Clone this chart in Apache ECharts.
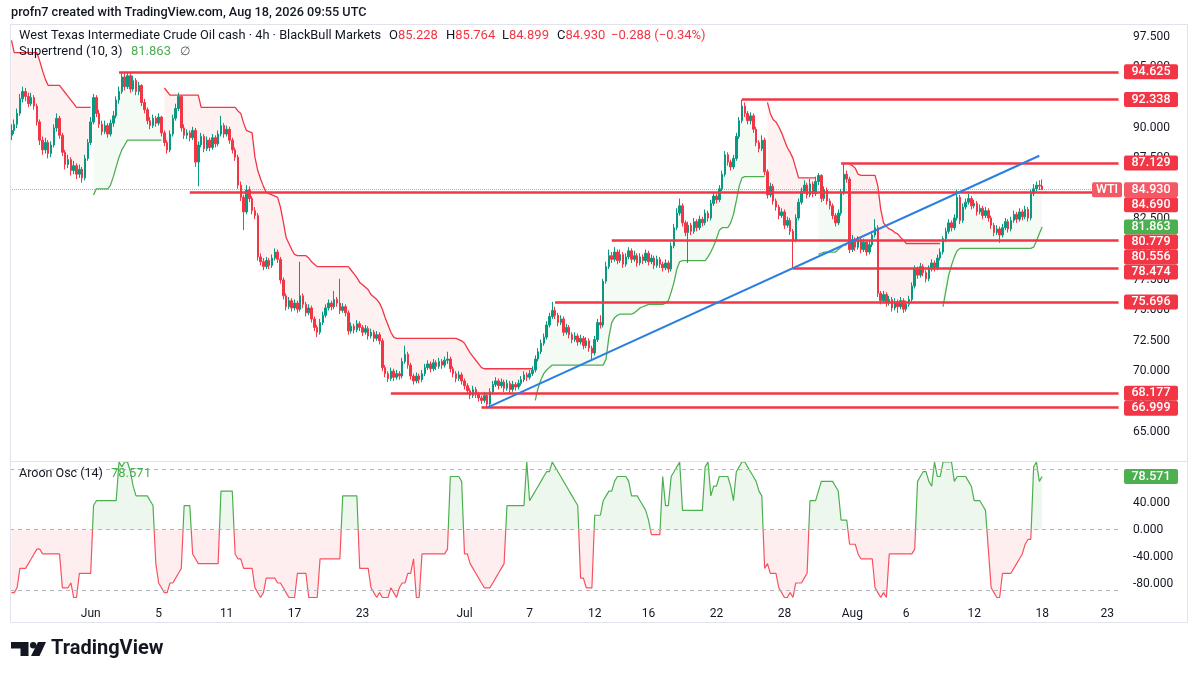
<!DOCTYPE html>
<html><head><meta charset="utf-8">
<script src="https://cdn.jsdelivr.net/npm/echarts@6/dist/echarts.min.js"></script>
<style>html,body{margin:0;padding:0;background:#fff}#c{width:1200px;height:675px}</style>
</head><body><div id="c"></div>
<script>
// ---------- DATA ----------
// 4h candles: [open, close, low, high]
const candles = [
[89.4,89.8,89.0,90.3],[89.8,90.3,89.5,90.7],[90.3,91.2,90.0,91.6],[91.2,92.4,91.0,92.8],[92.4,93.0,92.1,93.4],[93.0,92.6,92.2,93.3],[92.6,92.0,91.7,92.9],[92.0,92.5,91.8,92.9],[92.5,91.8,91.5,92.7],[91.8,90.5,90.2,92.0],
[90.5,89.0,88.6,90.7],[89.0,88.2,87.8,89.3],[88.2,88.8,87.9,89.2],[88.8,87.9,87.5,89.0],[87.9,88.6,87.6,88.9],[88.6,90.0,88.4,90.3],[90.0,90.8,89.7,91.2],[90.8,89.4,89.1,91.0],[89.4,88.0,87.7,89.6],[88.0,87.0,86.6,88.2],
[87.0,87.4,86.7,87.8],[87.4,86.5,86.1,87.6],[86.5,86.9,86.2,87.3],[86.9,86.2,85.8,87.1],[86.2,86.6,85.9,87.0],[86.6,85.9,85.5,86.8],[85.9,87.5,85.7,87.8],[87.5,88.8,87.3,89.1],[88.8,90.5,88.6,90.9],[90.5,92.5,90.3,92.8],
[92.5,91.2,90.9,92.7],[91.2,90.3,90.0,91.5],[90.3,89.7,89.4,90.6],[89.7,90.2,89.5,90.6],[90.2,89.5,89.2,90.4],[89.5,90.4,89.3,90.7],[90.4,91.0,90.1,91.4],[91.0,92.3,90.8,92.6],[92.3,93.0,92.0,93.4],[93.0,94.2,92.8,94.5],
[94.2,93.4,93.1,94.625],[93.4,94.3,93.2,94.6],[94.3,93.2,92.9,94.5],[93.2,93.9,93.0,94.3],[93.9,93.0,92.7,94.1],[93.0,93.5,92.7,93.8],[93.5,92.1,91.8,93.6],[92.1,91.5,91.2,92.4],[91.5,90.6,90.3,91.7],[90.6,90.2,89.9,90.9],
[90.2,90.8,90.0,91.1],[90.8,90.4,90.1,91.0],[90.4,90.9,90.2,91.2],[90.9,89.6,89.3,91.0],[89.6,88.8,88.5,89.8],[88.8,88.2,87.9,89.0],[88.2,89.5,88.0,89.8],[89.5,90.8,89.3,91.1],[90.8,91.6,90.6,92.0],[91.6,92.6,91.4,92.9],
[92.6,90.0,89.7,92.7],[90.0,89.4,89.1,90.3],[89.4,89.6,89.1,89.9],[89.6,89.2,88.9,89.8],[89.2,89.8,89.0,90.1],[89.8,87.2,86.8,90.0],[87.2,88.6,85.2,88.9],[88.6,89.3,88.4,89.6],[89.3,88.3,88.0,89.5],[88.3,89.0,88.1,89.3],
[89.0,88.4,88.1,89.2],[88.4,89.2,88.2,89.5],[89.2,88.7,88.4,89.4],[88.7,89.5,88.5,89.8],[89.5,90.2,89.3,91.0],[90.2,89.5,89.2,90.4],[89.5,89.9,89.3,90.2],[89.9,89.0,88.7,90.1],[89.0,88.2,87.9,89.2],[88.2,87.6,87.3,88.4],
[87.6,85.3,85.0,87.8],[85.3,84.3,84.0,85.6],[84.3,83.1,81.6,84.5],[83.1,84.9,82.9,85.3],[84.9,84.2,83.9,85.2],[84.2,83.2,82.9,84.4],[83.2,82.8,82.5,83.5],[82.8,79.4,79.1,83.0],[79.4,79.0,78.7,79.7],[79.0,78.6,78.3,79.3],
[78.6,79.1,78.4,79.4],[79.1,78.7,78.4,79.3],[78.7,79.3,78.5,79.6],[79.3,79.8,79.1,80.1],[79.8,79.2,78.9,80.0],[79.2,77.5,77.2,79.4],[77.5,76.2,75.9,77.7],[76.2,75.3,75.0,76.4],[75.3,75.8,75.1,76.1],[75.8,75.2,74.9,76.0],
[75.2,75.6,75.0,75.9],[75.6,75.1,74.8,75.8],[75.1,76.2,74.9,79.0],[76.2,75.5,75.2,76.4],[75.5,74.8,74.5,75.7],[74.8,75.2,74.6,75.5],[75.2,74.3,74.0,75.4],[74.3,73.6,73.3,74.5],[73.6,73.2,72.8,73.8],[73.2,74.0,73.0,74.3],
[74.0,74.6,73.8,74.9],[74.6,75.2,74.4,75.5],[75.2,75.6,75.0,75.9],[75.6,75.3,75.0,75.8],[75.3,75.9,75.1,76.6],[75.9,75.6,75.3,76.1],[75.6,75.0,74.7,77.6],[75.0,75.3,74.8,75.6],[75.3,74.8,74.5,75.5],[74.8,73.3,73.0,75.0],
[73.3,73.7,73.1,74.0],[73.7,73.4,73.1,73.9],[73.4,73.9,73.2,74.2],[73.9,73.6,73.3,74.1],[73.6,73.2,72.9,73.8],[73.2,73.5,73.0,73.8],[73.5,72.9,72.6,73.7],[72.9,73.2,72.7,73.5],[73.2,72.7,72.4,73.4],[72.7,73.0,72.5,73.3],
[73.0,72.5,72.2,73.2],[72.5,70.3,70.0,72.7],[70.3,69.8,69.5,70.5],[69.8,69.4,69.1,70.0],[69.4,70.0,69.2,70.3],[70.0,69.5,69.2,70.2],[69.5,69.8,69.3,70.1],[69.8,69.6,69.3,70.0],[69.6,70.8,69.4,71.1],[70.8,71.4,70.6,72.1],
[71.4,70.5,70.2,71.6],[70.5,69.6,69.3,70.7],[69.6,69.2,68.9,69.8],[69.2,69.6,69.0,69.9],[69.6,69.3,69.0,69.8],[69.3,69.8,69.1,70.1],[69.8,70.3,69.6,70.6],[70.3,70.6,70.1,70.9],[70.6,70.2,69.9,70.8],[70.2,70.7,70.0,71.0],
[70.7,70.4,70.1,70.9],[70.4,70.8,70.2,71.1],[70.8,70.5,70.2,71.0],[70.5,70.9,70.3,71.2],[70.9,71.0,70.6,71.6],[71.0,70.2,69.9,71.2],[70.2,69.8,69.5,70.4],[69.8,69.4,69.1,70.0],[69.4,69.7,69.2,70.0],[69.7,69.2,68.9,69.9],
[69.2,68.8,68.5,69.4],[68.8,68.4,68.1,69.0],[68.4,68.0,67.7,68.6],[68.0,68.5,67.8,68.8],[68.5,68.1,67.8,68.7],[68.1,67.8,67.5,68.3],[67.8,67.6,67.3,68.0],[67.6,68.0,67.4,68.3],[68.0,67.3,66.999,68.2],[67.3,68.3,67.1,68.6],
[68.3,68.9,68.1,69.2],[68.9,69.2,68.7,69.5],[69.2,68.8,68.5,69.4],[68.8,69.1,68.6,69.4],[69.1,68.6,68.3,69.3],[68.6,69.0,68.4,69.3],[69.0,68.5,68.2,69.2],[68.5,68.9,68.3,69.2],[68.9,68.7,68.4,69.1],[68.7,69.0,68.5,69.3],
[69.0,69.3,68.8,69.6],[69.3,69.7,69.1,70.0],[69.7,69.5,69.2,69.9],[69.5,69.8,69.3,70.1],[69.8,70.1,69.6,70.4],[70.1,71.0,69.9,71.3],[71.0,71.6,70.8,71.9],[71.6,72.3,71.4,72.6],[72.3,72.8,72.1,73.1],[72.8,73.8,72.6,74.1],
[73.8,74.5,73.6,74.8],[74.5,75.0,74.3,75.696],[75.0,74.6,74.3,75.3],[74.6,74.0,73.7,74.8],[74.0,74.3,73.8,74.6],[74.3,73.2,72.9,74.5],[73.2,73.6,73.0,73.9],[73.6,73.0,72.7,73.8],[73.0,72.6,72.3,73.2],[72.6,72.9,72.4,73.2],
[72.9,72.4,72.1,73.1],[72.4,72.7,72.2,73.0],[72.7,72.1,71.8,72.9],[72.1,72.5,71.9,72.8],[72.5,71.9,71.6,72.7],[71.9,71.5,71.0,72.1],[71.5,72.6,71.3,72.9],[72.6,74.0,72.4,74.3],[74.0,73.8,73.5,74.6],[73.8,77.4,73.6,77.6],
[77.4,78.6,77.2,79.0],[78.6,79.5,78.4,80.0],[79.5,79.2,78.9,79.8],[79.2,79.8,79.0,80.2],[79.8,79.1,78.8,80.0],[79.1,79.6,78.9,80.0],[79.6,78.8,78.5,79.8],[78.8,79.4,78.6,79.7],[79.4,79.9,79.2,80.2],[79.9,79.2,78.9,80.1],
[79.2,79.5,79.0,79.9],[79.5,78.9,78.6,79.7],[78.9,79.4,78.7,79.7],[79.4,79.1,78.8,79.6],[79.1,79.7,78.9,80.0],[79.7,79.0,78.7,79.9],[79.0,79.3,78.8,79.6],[79.3,78.7,78.4,79.5],[78.7,79.2,78.5,79.5],[79.2,78.8,78.5,79.4],
[78.8,78.5,78.2,79.0],[78.5,78.9,78.3,79.2],[78.9,78.4,78.1,79.1],[78.4,80.3,78.2,80.6],[80.3,81.8,80.1,82.1],[81.8,83.0,81.6,83.4],[83.0,83.6,82.8,84.2],[83.6,82.2,81.9,83.8],[82.2,81.4,81.1,82.4],[81.4,82.0,78.9,82.3],
[82.0,81.5,81.2,82.2],[81.5,82.3,81.3,82.6],[82.3,81.8,81.5,82.5],[81.8,82.5,81.6,82.8],[82.5,82.2,81.9,82.7],[82.2,83.0,82.0,83.3],[83.0,82.6,82.3,83.2],[82.6,83.8,82.4,84.1],[83.8,84.4,83.6,84.7],[84.4,84.1,83.8,84.6],
[84.1,85.0,83.9,85.3],[85.0,86.2,84.8,86.5],[86.2,87.8,86.0,88.1],[87.8,87.2,86.9,88.0],[87.2,86.8,86.5,87.4],[86.8,87.5,86.6,87.8],[87.5,89.3,87.3,89.6],[89.3,90.6,89.1,90.9],[90.6,91.8,90.4,92.338],[91.8,91.2,90.9,92.1],
[91.2,90.6,90.3,91.4],[90.6,91.0,90.3,91.3],[91.0,89.9,89.6,91.2],[89.9,88.8,88.5,90.1],[88.8,88.3,88.0,89.0],[88.3,89.0,88.1,89.4],[89.0,86.4,86.1,89.2],[86.4,84.5,84.2,86.6],[84.5,85.2,84.3,85.5],[85.2,84.0,83.7,85.4],
[84.0,83.5,83.2,84.2],[83.5,82.8,82.5,83.7],[82.8,83.1,82.6,83.4],[83.1,82.0,81.7,83.3],[82.0,82.4,81.8,82.7],[82.4,81.5,81.2,82.6],[81.5,80.8,78.474,81.7],[80.8,82.6,80.6,82.9],[82.6,83.9,82.4,84.2],[83.9,84.8,83.7,85.1],
[84.8,85.3,84.6,85.7],[85.3,84.5,84.2,85.5],[84.5,85.4,84.3,85.8],[85.4,84.6,84.3,85.6],[84.6,85.6,84.4,86.0],[85.6,86.1,85.3,86.3],[86.1,84.2,83.9,86.2],[84.2,84.9,84.0,85.2],[84.9,84.0,83.7,85.1],[84.0,83.6,83.3,84.2],
[83.6,82.8,82.5,83.8],[82.8,82.2,81.9,83.0],[82.2,83.0,82.0,83.3],[83.0,84.7,82.8,85.0],[84.7,86.2,84.5,87.129],[86.2,85.8,85.5,86.5],[85.8,80.0,79.7,86.0],[80.0,80.8,79.8,81.2],[80.8,80.2,79.9,81.0],[80.2,80.8,80.0,81.1],
[80.8,80.0,79.7,81.0],[80.0,80.6,79.8,80.9],[80.6,79.8,79.5,80.8],[79.8,80.4,79.6,80.7],[80.4,81.2,80.2,81.5],[81.2,81.8,81.0,82.5],[81.8,76.4,76.1,82.0],[76.4,75.8,75.5,76.6],[75.8,76.3,75.6,76.6],[76.3,75.6,75.3,76.5],
[75.6,75.9,75.4,76.2],[75.9,75.2,74.9,76.1],[75.2,75.7,75.0,76.0],[75.7,75.3,74.8,75.9],[75.3,75.8,75.1,76.1],[75.8,75.1,74.8,76.0],[75.1,75.5,74.9,75.8],[75.5,75.9,75.3,76.2],[75.9,77.0,75.7,77.3],[77.0,78.4,76.8,78.7],
[78.4,77.9,77.6,78.6],[77.9,78.6,77.7,78.9],[78.6,78.1,77.8,78.8],[78.1,77.6,77.3,78.3],[77.6,78.4,77.4,78.7],[78.4,78.9,78.2,79.2],[78.9,78.5,78.2,79.1],[78.5,79.3,78.3,79.6],[79.3,79.8,79.1,80.1],[79.8,80.9,79.6,81.1],
[80.9,81.5,80.6,81.8],[81.5,82.2,81.3,82.5],[82.2,81.8,81.5,82.4],[81.8,82.6,81.6,82.9],[82.6,84.3,82.4,84.9],[84.3,82.4,82.1,84.5],[82.4,83.5,82.2,83.8],[83.5,83.9,83.3,84.2],[83.9,84.2,83.7,84.6],[84.2,83.6,83.3,84.4],
[83.6,83.8,83.4,84.1],[83.8,83.1,82.8,84.0],[83.1,83.4,82.9,83.7],[83.4,82.8,82.5,83.6],[82.8,83.2,82.6,83.5],[83.2,82.6,82.3,83.4],[82.6,82.0,81.7,82.8],[82.0,81.4,81.1,82.2],[81.4,81.7,81.2,82.0],[81.7,81.2,80.556,81.9],
[81.2,81.8,81.0,82.1],[81.8,82.3,81.6,82.6],[82.3,81.7,81.4,82.5],[81.7,82.4,81.5,82.7],[82.4,82.9,82.2,83.2],[82.9,82.5,82.2,83.1],[82.5,83.1,82.3,83.4],[83.1,82.7,82.4,83.3],[82.7,83.3,82.5,83.6],[83.3,82.6,82.3,83.5],
[82.6,84.6,82.4,84.9],[84.6,85.0,84.4,85.4],[85.0,85.3,84.8,85.6],[85.3,85.218,84.9,85.7],[85.228,84.93,84.899,85.764]
];

// Supertrend (10,3) segments: [first bar index, values]
const stRedSegs = [
 [0,[97.2,96.2,96.2,96.2,96.2,96.2,96.2,96.2,96.2,96.2,95.5,94.7,94.0,93.5,93.5,93.5,93.5,93.5,93.2,92.9,92.6,92.3,92.0,91.7,91.7,91.7,91.7,91.7,91.7]],
 [54,[93.3,93.0,92.7,92.7,92.7,92.7,92.7,92.7,92.7,92.7,92.7,92.7,92.7,
      91.7,91.7,91.7,91.7,91.7,91.7,91.7,91.7,91.7,91.7,91.7,91.7,91.7,
      91.4,91.2,90.4,89.8,89.7,89.6,87.6,86.5,85.8,85.2,84.7,84.6,84.5,84.4,84.3,83.5,82.3,81.0,80.5,80.0,79.6,
      79.5,79.5,79.5,79.5,79.3,79.0,78.8,
      78.6,78.6,78.6,78.6,78.6,78.6,78.6,78.6,78.6,78.6,78.6,78.6,
      78.3,78.0,77.7,77.3,77.1,76.9,76.7,76.3,76.1,75.9,75.6,75.1,74.4,73.8,73.2,72.8,
      72.7,72.7,72.7,72.7,72.7,72.7,72.7,72.7,72.7,72.7,72.7,72.7,72.7,72.7,72.7,72.7,72.7,72.7,72.7,72.7,72.7,72.7,
      72.6,72.5,72.3,71.9,71.5,71.2,70.9,70.6,70.3,
      70.2,70.2,70.2,70.2,70.2,70.2,70.2,70.2,70.2,70.2,70.2,70.2,70.2,70.2,70.2,70.2,70.2,70.2]],
 [267,[92.1,91.2,90.7,90.5,90.1,89.6,89.0,88.4,88.0,87.5,86.7,85.9,85.9,85.9,85.9,85.9,85.9,85.9]],
 [296,[87.0,86.9,86.7,86.2,86.1,86.1,86.1,86.1,86.1,86.1,85.2,83.3,82.2,81.9,81.7,81.6,81.4,81.3,81.0,80.8,80.5,
      80.5,80.5,80.5,80.5,80.5,80.5,80.5,80.5,80.5,80.5,80.5,80.5]]
];
const stGreenSegs = [
 [29,[84.5,85.0,85.0,85.0,85.0,85.0,85.3,86.0,86.8,87.6,88.2,88.6,89.0,89.0,89.0,89.0,89.0,89.0,89.0,89.0,89.0,89.0,89.0,89.0,89.0]],
 [185,[67.6,68.6,69.3,69.8,70.1,70.3,
      70.5,70.5,70.5,70.5,70.5,70.5,70.5,70.5,70.5,70.5,70.5,70.5,70.5,70.5,70.5,70.5,70.5,70.5,70.5,
      71.0,72.8,74.0,74.4,74.6,74.7,74.7,74.7,74.7,74.7,74.8,75.0,75.2,75.3,75.4,
      75.5,75.5,75.5,75.5,75.5,75.5,75.6,75.8,76.5,77.3,78.4,79.0,
      79.1,79.1,79.1,79.1,79.1,79.1,79.1,79.1,79.1,79.4,79.8,80.3,80.9,81.6,81.8,81.8,81.8,
      82.2,82.9,84.0,85.2,85.9,86.0,86.0,86.0,86.0,86.0,86.0,86.0,86.0]],
 [285,[79.6,79.7,79.8,79.8,79.8,79.8,79.8,80.0,80.2,80.4,80.4]],
 [329,[75.3,76.6,77.9,78.7,79.4,79.9,
      80.1,80.1,80.1,80.1,80.1,80.1,80.1,80.1,80.1,80.1,80.1,80.1,80.1,80.1,80.1,80.1,80.1,80.1,80.1,80.1,80.1,80.1,80.1,80.1,80.1,80.1,
      80.2,80.7,81.3,81.863]]
];

// Aroon Oscillator (14), one value per bar
const aroon = [
-92.9,-92.9,-85.7,-57.1,-57.1,-57.1,-50,-42.9,-35.7,-28.6,
-28.6,-35.7,-35.7,-35.7,-35.7,-35.7,-35.7,-35.7,-85.7,-85.7,
-85.7,-78.6,-100,-100,-64.3,-64.3,-64.3,-64.3,-64.3,35.7,
42.9,42.9,42.9,42.9,42.9,42.9,42.9,42.9,100,92.9,
100,100,85.7,64.3,50,50,50,50,50,42.9,
35.7,-50,-78.6,-85.7,-92.9,-92.9,-78.6,-78.6,-71.4,-64.3,
-57.1,35.7,35.7,35.7,-35.7,-42.9,-50,-50,-50,-50,
-50,-50,-50,-50,57.1,57.1,57.1,57.1,57.1,-35.7,
-42.9,-42.9,-57.1,-57.1,-57.1,-57.1,-85.7,-92.9,-100,-92.9,
-71.4,-71.4,-71.4,-71.4,-78.6,-78.6,-85.7,-92.9,-100,-100,
-100,-64.3,-64.3,-64.3,-64.3,-100,-100,-100,-100,-42.9,
-42.9,-42.9,-42.9,-42.9,-42.9,-42.9,-42.9,50,50,50,
50,50,50,-57.1,-57.1,-57.1,-57.1,-85.7,-92.9,-100,
-92.9,-100,-100,-100,-85.7,-92.9,-100,-85.7,-78.6,-78.6,
-64.3,-64.3,-42.9,-100,-100,-35.7,-35.7,-35.7,-35.7,-35.7,
-35.7,-35.7,-35.7,-35.7,-28.6,78.6,78.6,78.6,78.6,71.4,
-35.7,-35.7,-50,-57.1,-64.3,-71.4,-78.6,-85.7,-85.7,-85.7,
-78.6,-71.4,-64.3,-57.1,-50,35.7,35.7,35.7,35.7,35.7,
35.7,35.7,100,42.9,50,57.1,64.3,71.4,78.6,85.7,
85.7,100,92.9,85.7,78.6,71.4,64.3,57.1,50,42.9,
35.7,-71.4,-71.4,-85.7,-85.7,-85.7,21.4,21.4,21.4,42.9,
50,57.1,57.1,71.4,78.6,78.6,78.6,78.6,71.4,50,
50,50,42.9,35.7,28.6,14.3,-7.1,-7.1,-7.1,-7.1,
78.6,35.7,35.7,78.6,85.7,92.9,100,28.6,28.6,28.6,
28.6,28.6,28.6,28.6,28.6,92.9,100,50,64.3,64.3,
78.6,78.6,78.6,78.6,64.3,42.9,85.7,92.9,100,100,
92.9,85.7,78.6,71.4,57.1,50,-57.1,-50,-64.3,-64.3,
-64.3,-85.7,-92.9,-100,-100,-92.9,-100,-78.6,-78.6,-78.6,
-71.4,-64.3,42.9,42.9,42.9,57.1,71.4,71.4,71.4,71.4,
71.4,64.3,57.1,14.3,14.3,14.3,-21.4,-21.4,-21.4,-35.7,
-42.9,-42.9,-42.9,-42.9,-42.9,-85.7,-92.9,-100,-92.9,-100,
-35.7,-35.7,-35.7,-35.7,-35.7,-35.7,-35.7,-35.7,-35.7,-28.6,
71.4,78.6,85.7,85.7,71.4,64.3,100,78.6,78.6,100,
100,100,100,71.4,78.6,78.6,78.6,78.6,71.4,64.3,
42.9,42.9,42.9,35.7,28.6,-28.6,-85.7,-92.9,-100,-100,
-64.3,-64.3,-64.3,-64.3,-57.1,-50,-42.9,-35.7,-21.4,-14.3,
-14.3,92.9,100,71.4,78.571
];

// Horizontal levels: [price, first bar index]
const hLevels = [[94.625,38],[92.338,258],[87.129,293],[84.690,63],[80.779,212],[78.474,276],[75.696,192],[68.177,134],[66.999,166]];
// Trend line: [bar index, price] endpoints
const trendLine = [[168,66.999],[363,87.72]];
// Right-scale price tags
const priceTags = [94.625,92.338,87.129,84.930,84.690,81.863,80.779,80.556,78.474,75.696,68.177,66.999];
const lastPrice = 84.930, stLast = 81.863, aroonLast = 78.571;
// Axis ticks
const xTickLabels = [[28,'Jun'],[52,'5'],[76,'11'],[100,'17'],[124,'23'],[160,'Jul'],[183,'7'],[206,'12'],[225,'16'],[249,'22'],[273,'28'],[297,'Aug'],[316,'6'],[340,'12'],[364,'18'],[387,'23']];
const priceTicks = [65,67.5,70,72.5,75,77.5,80,82.5,85,87.5,90,92.5,95,97.5];
const oscTicks = [40,0,-40,-80];
const oscBands = [90,0,-90];
const ohlcLegend = [['O','85.228'],['H','85.764'],['L','84.899'],['C','84.930']];
const changeText = '\u22120.288 (\u22120.34%)';

// ---------- CHART ----------
const N_SLOTS = 392;
const cats = Array.from({length:N_SLOTS},(_,i)=>String(i));
const nBars = candles.length;
function expand(segs){const a=new Array(nBars).fill(null);segs.forEach(([s,vals])=>vals.forEach((v,k)=>{a[s+k]=v;}));return a;}
const stRed = expand(stRedSegs), stGreen = expand(stGreenSegs);
const mid = candles.map(c=>(c[0]+c[1])/2);
const gBase = stGreen.slice();
const gDiff = stGreen.map((v,i)=>v==null?null:Math.max(0,mid[i]-v));
const rBase = stRed.map((v,i)=>v==null?null:Math.min(mid[i],v));
const rDiff = stRed.map((v,i)=>v==null?null:Math.max(0,v-mid[i]));
const tickMap = {}; xTickLabels.forEach(([i,t])=>{tickMap[i]=t;});

const FONT = 'Roboto, "Noto Sans", sans-serif';
const TXT = '#131722';
const RED = '#f23645', GREEN = '#4caf50', TEAL = '#089981';

const chart = echarts.init(document.getElementById('c'));
const hidden = {lineStyle:{opacity:0}, symbol:'none', silent:true};
chart.setOption({
  animation:false,
  backgroundColor:'#ffffff',
  grid:[{left:10,right:80,top:25,height:436},{left:10,right:80,top:461,height:140}],
  xAxis:[
    {type:'category',gridIndex:0,data:cats,show:false},
    {type:'category',gridIndex:1,data:cats,axisLine:{show:false},axisTick:{show:false},splitLine:{show:false},
     axisLabel:{interval:(i)=>tickMap[i]!==undefined,formatter:(v,i)=>tickMap[i]||'',color:TXT,fontSize:12,fontFamily:FONT,margin:7}}
  ],
  yAxis:[
    {type:'value',gridIndex:0,position:'right',min:62.615,max:98.47,scale:true,splitLine:{show:false},axisLine:{show:false},axisTick:{show:false},
     axisLabel:{customValues:priceTicks,formatter:v=>v.toFixed(3),color:TXT,fontSize:12,fontFamily:FONT,margin:13}},
    {type:'value',gridIndex:1,position:'right',min:-105.2,max:101.5,splitLine:{show:false},axisLine:{show:false},axisTick:{show:false},
     axisLabel:{customValues:oscTicks,formatter:v=>v.toFixed(3),color:TXT,fontSize:12,fontFamily:FONT,margin:13}}
  ],
  visualMap:[{show:false,type:'piecewise',seriesIndex:7,dimension:1,
    pieces:[{gt:0,lte:1000,color:GREEN},{gt:-1000,lte:0,color:'#f7525f'}]}],
  series:[
    Object.assign({type:'line',data:gBase,stack:'g',z:1},hidden),
    Object.assign({type:'line',data:gDiff,stack:'g',z:1,areaStyle:{color:'rgba(76,175,80,0.09)'}},hidden),
    Object.assign({type:'line',data:rBase,stack:'r',z:1},hidden),
    Object.assign({type:'line',data:rDiff,stack:'r',z:1,areaStyle:{color:'rgba(242,54,69,0.1)'}},hidden),
    {type:'line',data:stGreen,symbol:'none',z:2,silent:true,lineStyle:{color:GREEN,width:1.3}},
    {type:'line',data:stRed,symbol:'none',z:2,silent:true,lineStyle:{color:RED,width:1.3}},
    {type:'candlestick',data:candles,z:3,barWidth:2,
     itemStyle:{color:TEAL,color0:RED,borderColor:TEAL,borderColor0:RED,borderWidth:1}},
    {type:'line',xAxisIndex:1,yAxisIndex:1,data:aroon,symbol:'none',z:2,
     lineStyle:{width:1.2},areaStyle:{opacity:0.1,origin:0},
     markLine:{silent:true,symbol:'none',label:{show:false},
       lineStyle:{color:'#b2b5be',type:[4,4],width:1},
       data:oscBands.map(v=>({yAxis:v}))}},
    {type:'line',data:[],z:10,symbol:'none',
     markLine:{silent:true,symbol:'none',label:{show:false},animation:false,
       data:[
         {yAxis:lastPrice,lineStyle:{color:'rgba(242,54,69,0.55)',type:'dotted',width:1}},
         ...hLevels.map(([v,s])=>[{coord:[s,v],lineStyle:{color:RED,width:2.5,type:'solid'}},{coord:[N_SLOTS-1,v]}]),
         [{coord:trendLine[0],lineStyle:{color:'#2a7fe0',width:2,type:'solid'}},{coord:trendLine[1]}]
       ]}}
  ]
});

// ---------- overlays (text, tags, frame, logo) ----------
const g = [];
g.push({type:'rect',shape:{x:10.5,y:24.5,width:1177,height:598},style:{fill:'none',stroke:'#e0e3eb',lineWidth:1},z:50,silent:true});
g.push({type:'line',shape:{x1:10,y1:461.5,x2:1188,y2:461.5},style:{stroke:'#e0e3eb',lineWidth:1},z:50,silent:true});
g.push({type:'text',x:11,y:13,style:{text:'profn7 created with TradingView.com, Aug 18, 2026 09:55 UTC',fill:TXT,fontSize:12.7,fontWeight:500,fontFamily:FONT,verticalAlign:'middle'},z:60});
g.push({type:'text',x:19,y:36,style:{text:'West Texas Intermediate Crude Oil cash \u00b7 4h \u00b7 BlackBull Markets',fill:TXT,fontSize:12.8,fontFamily:FONT,verticalAlign:'middle'},z:60});
const ohlcX = [389,446,502,557];
ohlcLegend.forEach(([k,v],i)=>{
  g.push({type:'text',x:ohlcX[i],y:36,style:{text:'{k|'+k+'}{v|'+v+'}',fontSize:13,fontFamily:FONT,verticalAlign:'middle',
    rich:{k:{fill:TXT,fontSize:13,fontFamily:FONT},v:{fill:RED,fontSize:13,fontFamily:FONT}}},z:60});
});
g.push({type:'text',x:611,y:36,style:{text:changeText,fill:RED,fontSize:13,fontFamily:FONT,verticalAlign:'middle'},z:60});
g.push({type:'text',x:19,y:52,style:{text:'Supertrend (10, 3)',fill:TXT,fontSize:13,fontFamily:FONT,verticalAlign:'middle'},z:60});
g.push({type:'text',x:131,y:52,style:{text:stLast.toFixed(3),fill:GREEN,fontSize:13,fontFamily:FONT,verticalAlign:'middle'},z:60});
g.push({type:'text',x:180,y:52,style:{text:'\u2205',fill:'#50535e',fontSize:12,fontFamily:FONT,verticalAlign:'middle'},z:60});
g.push({type:'text',x:19,y:474,style:{text:'Aroon Osc (14)',fill:TXT,fontSize:12.5,fontFamily:FONT,verticalAlign:'middle'},z:60});
g.push({type:'text',x:111,y:474,style:{text:aroonLast.toFixed(3),fill:GREEN,fontSize:13,fontFamily:FONT,verticalAlign:'middle'},z:60});

// price tags with overlap avoidance
const tags = priceTags.map(v=>({v,y:chart.convertToPixel({xAxisIndex:0,yAxisIndex:0},[0,v])[1]})).sort((a,b)=>a.y-b.y);
for(let i=1;i<tags.length;i++){ if(tags[i].y<tags[i-1].y+15) tags[i].y=tags[i-1].y+15; }
function tag(x,w,y,color,text){
  g.push({type:'rect',shape:{x:x,y:y-7.5,width:w,height:15,r:2},style:{fill:color},z:70,silent:true});
  g.push({type:'text',x:x+w/2,y:y,style:{text:text,fill:'#ffffff',fontSize:12.5,fontWeight:500,fontFamily:FONT,align:'center',verticalAlign:'middle'},z:71,silent:true});
}
tags.forEach(t=>{
  let col = RED;
  if (t.v===lastPrice) col = '#f55865';
  if (t.v===stLast) col = GREEN;
  tag(1124,54,t.y,col,t.v.toFixed(3));
  if (t.v===lastPrice) tag(1092,30,t.y,'#f55865','WTI');
});
const ay = chart.convertToPixel({xAxisIndex:1,yAxisIndex:1},[0,aroonLast])[1];
tag(1124,54,ay,GREEN,aroonLast.toFixed(3));

// TradingView logo
g.push({type:'polygon',shape:{points:[[11,642],[28.5,642],[28.5,656],[20.5,656],[20.5,648.5],[11,648.5]]},style:{fill:TXT},z:60});
g.push({type:'circle',shape:{cx:33.2,cy:645.3,r:3.2},style:{fill:TXT},z:60});
g.push({type:'polygon',shape:{points:[[38,642],[46,642],[39.5,656],[31,656]]},style:{fill:TXT},z:60});
g.push({type:'text',x:51,y:649,style:{text:'TradingView',fill:TXT,fontSize:20,fontWeight:'bold',fontFamily:FONT,verticalAlign:'middle'},z:60});

chart.setOption({graphic:g});
</script>
</body></html>
